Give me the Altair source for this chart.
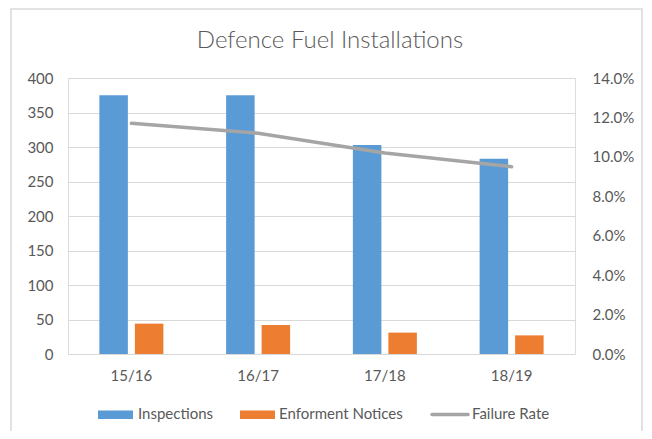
import altair as alt
import pandas as pd

years = ["15/16", "16/17", "17/18", "18/19"]
inspections = [375, 375, 303, 283]
notices = [44, 42, 31, 27]
failure_rate = [0.117, 0.112, 0.102, 0.095]
series = ["Inspections", "Enforment Notices"]
line_name = "Failure Rate"
bar_colors = ["#5b9bd5", "#ed7d31"]
line_color = "#a5a5a5"
title_text = "Defence Fuel Installations"
left_ticks = [0, 50, 100, 150, 200, 250, 300, 350, 400]
right_ticks = [0.0, 0.02, 0.04, 0.06, 0.08, 0.10, 0.12, 0.14]

FONT = "Lato"
TXT = "#595959"
GRID = "#d9d9d9"
FS = 15
W, H = 507, 276

bars_df = pd.DataFrame({
    "year": years * 2,
    "series": [series[0]] * len(years) + [series[1]] * len(years),
    "value": inspections + notices,
})
line_df = pd.DataFrame({"year": years, "rate": failure_rate})
one = pd.DataFrame({"a": [0]})

x_enc = alt.X(
    "year:N", sort=years, title=None,
    scale=alt.Scale(paddingInner=0.495, paddingOuter=0.2475),
    axis=alt.Axis(labelAngle=0, ticks=False, domainColor=GRID, domainWidth=1,
                  labelPadding=14, labelFontSize=FS, labelColor=TXT, labelFont=FONT),
)

bars = alt.Chart(bars_df).mark_bar().encode(
    x=x_enc,
    xOffset=alt.XOffset("series:N", sort=series, scale=alt.Scale(paddingInner=0.197)),
    y=alt.Y("value:Q", title=None, scale=alt.Scale(domain=[0, 400], nice=False),
            axis=alt.Axis(values=left_ticks, grid=True, gridColor=GRID, gridWidth=1,
                          domain=False, ticks=False, labelPadding=15, labelFontSize=FS,
                          labelColor=TXT, labelFont=FONT)),
    color=alt.Color("series:N", scale=alt.Scale(domain=series, range=bar_colors), legend=None),
)

line = alt.Chart(line_df).mark_line(color=line_color, strokeWidth=3.5, strokeCap="round").encode(
    x=alt.X("year:N", sort=years),
    y=alt.Y("rate:Q", title=None, scale=alt.Scale(domain=[0, 0.14], nice=False),
            axis=alt.Axis(orient="right", values=right_ticks, format=".1%", grid=False,
                          domain=False, ticks=False, labelPadding=17, labelFontSize=FS,
                          labelColor=TXT, labelFont=FONT)),
)

border = alt.Chart(one).mark_rect(fill="white", fillOpacity=0, stroke=GRID, strokeWidth=1.5).encode(
    x=alt.value(-57), x2=alt.value(574), y=alt.value(-69), y2=alt.value(400)
)

title = alt.Chart(one).mark_text(font=FONT, fontSize=24, fontWeight=300, color=TXT,
                                 align="center", baseline="alphabetic").encode(
    x=alt.value(262), y=alt.value(-30), text=alt.value(title_text))

def swatch(x0, x1, color):
    return alt.Chart(one).mark_rect(color=color).encode(
        x=alt.value(x0), x2=alt.value(x1), y=alt.value(332.5), y2=alt.value(341))

def label(x0, txt):
    return alt.Chart(one).mark_text(font=FONT, fontSize=FS, color=TXT, align="left",
                                    baseline="middle").encode(
        x=alt.value(x0), y=alt.value(336), text=alt.value(txt))

leg_line = alt.Chart(one).mark_rule(color=line_color, strokeWidth=3.5, strokeCap="round").encode(
    x=alt.value(364), x2=alt.value(400), y=alt.value(336.5))

chart = alt.layer(
    border, bars, line, title,
    swatch(30, 65, bar_colors[0]), label(70, series[0]),
    swatch(172, 207, bar_colors[1]), label(211, series[1]),
    leg_line, label(404, line_name),
).resolve_scale(y="independent").properties(
    width=W, height=H,
    autosize=alt.AutoSizeParams(type="none"),
    padding={"left": 60, "top": 70, "right": 69, "bottom": 77},
).configure_view(stroke=None).configure(background="white")

chart.save("out.html", embed_options={"renderer": "svg", "actions": False})
